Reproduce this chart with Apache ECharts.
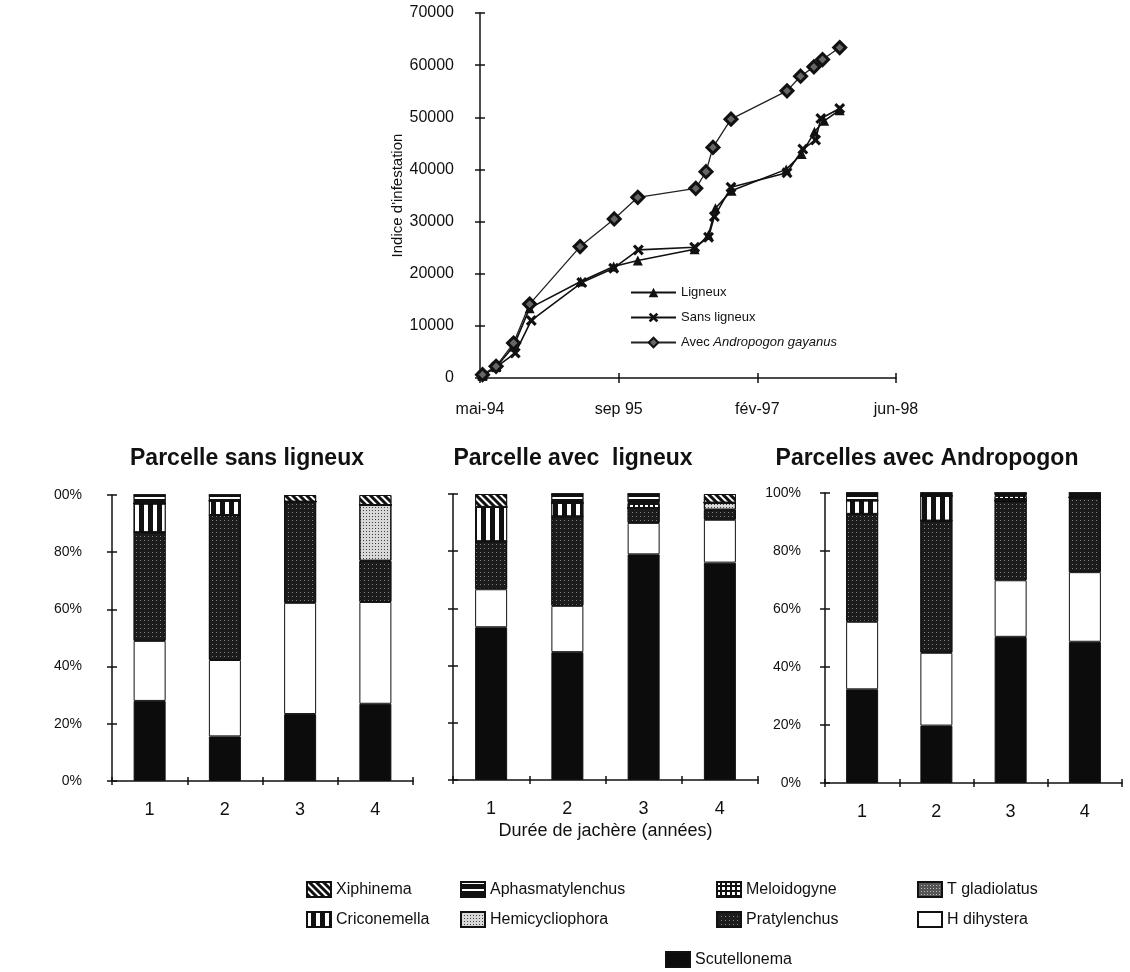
<!DOCTYPE html>
<html><head><meta charset="utf-8">
<script src="https://cdn.jsdelivr.net/npm/echarts@6/dist/echarts.min.js"></script>
<style>html,body{margin:0;padding:0;background:#fff}#c{width:1130px;height:972px}</style>
</head><body><div id="c"></div>
<script>
// ---------- Line chart data (x = days since the first axis tick, "mai-94") ----------
const xTickLabels = ['mai-94', 'sep 95', 'fév-97', 'jun-98'];
const ligneuxJours = [9, 58, 121, 179, 363, 482, 569, 774, 824, 849, 907, 1104, 1160, 1206, 1241, 1297];
const ligneuxIndice = [450, 2100, 6060, 13400, 18500, 21380, 22530, 24690, 27440, 32540, 35930, 40010, 42950, 47220, 49320, 51370];
const sansLigneuxJours = [9, 58, 127, 185, 367, 482, 571, 774, 824, 845, 905, 1107, 1164, 1210, 1229, 1297];
const sansLigneuxIndice = [450, 2100, 4790, 11040, 18310, 21060, 24570, 25080, 26990, 30950, 36570, 39370, 43900, 45630, 49780, 51690];
const andropogonJours = [9, 58, 121, 179, 361, 484, 569, 778, 815, 840, 905, 1107, 1156, 1204, 1235, 1297];
const andropogonIndice = [640, 2230, 6700, 14170, 25200, 30500, 34650, 36370, 39560, 44220, 49640, 55070, 57880, 59670, 61070, 63370];

// ---------- Bar charts data (% per fallow year) ----------
const categories = ['1', '2', '3', '4'];
const pctLabelsSans = ['0%', '20%', '40%', '60%', '80%', '00%'];
const pctLabelsAndro = ['0%', '20%', '40%', '60%', '80%', '100%'];
const species = ['Scutellonema', 'H dihystera', 'Pratylenchus', 'Hemicycliophora', 'Criconemella',
                 'T gladiolatus', 'Meloidogyne', 'Aphasmatylenchus', 'Xiphinema'];
// rows follow `species` (bottom of the stack first), columns = years 1..4
const parcelleSansLigneux = [
  [28, 15.6, 23.4, 27],
  [21, 26.7, 38.9, 35.6],
  [38, 50.7, 35.4, 14.4],
  [0, 0, 0, 19.5],
  [10, 5, 0, 0],
  [0, 0, 0, 0],
  [0, 0, 0, 0],
  [3, 2, 0, 0],
  [0, 0, 2.3, 3.5]
];
const parcelleAvecLigneux = [
  [53.4, 44.7, 78.9, 76],
  [13.3, 16.2, 11, 15],
  [16.8, 31.3, 5.2, 3.5],
  [0, 0, 0, 2.5],
  [12, 4.7, 0, 0],
  [0, 0, 0, 0],
  [0, 0, 1.8, 0],
  [0, 3.1, 3.1, 0],
  [4.5, 0, 0, 3]
];
const parcellesAndropogon = [
  [32.3, 19.8, 50.4, 48.7],
  [23.3, 25.1, 19.5, 24],
  [37.2, 45.6, 27.5, 25.8],
  [0, 0, 0, 0],
  [4.6, 8.5, 0, 0],
  [0, 0, 0, 0],
  [0, 0, 1.6, 0],
  [2.6, 1, 1, 1.5],
  [0, 0, 0, 0]
];
const chartTitles = ['Parcelle sans ligneux', 'Parcelle avec  ligneux', 'Parcelles avec Andropogon'];
const xAxisTitle = 'Durée de jachère (années)';
const yAxisTitle = "Indice d'infestation";

// ---------- styling ----------
const FONT = "'Liberation Sans', Arial, sans-serif";
const INK = '#111';
const patterns = {
  'Scutellonema': { color: '#0c0c0c' },
  'H dihystera': { color: '#ffffff' },
  'Pratylenchus': { color: '#1c1c1c', decal: { symbol: 'rect', symbolSize: 1, color: 'rgba(255,255,255,0.45)', dashArrayX: [1, 3], dashArrayY: [1, 3] } },
  'Hemicycliophora': { color: '#d8d8d8', decal: { symbol: 'rect', symbolSize: 1, color: 'rgba(0,0,0,0.7)', dashArrayX: [1, 2], dashArrayY: [1, 2] } },
  'Criconemella': { color: '#111', decal: { symbol: 'rect', symbolSize: 1, color: '#fff', dashArrayX: [4, 5], dashArrayY: [1, 0] } },
  'T gladiolatus': { color: '#555', decal: { symbol: 'rect', symbolSize: 1, color: 'rgba(255,255,255,0.6)', dashArrayX: [1, 2], dashArrayY: [1, 2] } },
  'Meloidogyne': { color: '#111', decal: { symbol: 'rect', symbolSize: 1, color: '#fff', dashArrayX: [3, 2], dashArrayY: [3, 2] } },
  'Aphasmatylenchus': { color: '#111', decal: { symbol: 'rect', symbolSize: 1, color: '#fff', dashArrayX: [1, 0], dashArrayY: [2, 5] } },
  'Xiphinema': { color: '#111', decal: { symbol: 'rect', symbolSize: 1, color: '#fff', dashArrayX: [1, 0], dashArrayY: [2, 3], rotation: Math.PI / 4 } }
};

const grids = [
  { left: 480, top: 13, width: 416, height: 365 },
  { left: 112, top: 495, width: 301, height: 286 },
  { left: 453, top: 494, width: 305, height: 286 },
  { left: 825, top: 493, width: 297, height: 290 }
];

const lineAxis = { lineStyle: { color: INK, width: 1.5 } };
const xAxes = [], yAxes = [];
function addPair(arr, base, tickLen) {
  const main = Object.assign({}, base, {
    axisLine: { show: true, ...lineAxis },
    axisTick: { show: true, length: tickLen, lineStyle: { color: INK, width: 1.5 } },
    splitLine: { show: false }
  });
  const inner = Object.assign({}, base, {
    name: '',
    axisLine: { show: false },
    axisLabel: { show: false },
    axisTick: { show: true, inside: true, length: tickLen, lineStyle: { color: INK, width: 1.5 } },
    splitLine: { show: false }
  });
  arr.push(main, inner);
  return arr.length - 2;
}

// line chart axes
const lx = addPair(xAxes, {
  gridIndex: 0, type: 'value', min: 0, max: 1500, interval: 500, position: 'bottom',
  axisLabel: { formatter: v => xTickLabels[Math.round(v / 500)], fontSize: 16, color: INK, fontFamily: FONT, margin: 24 }
}, 5);
const ly = addPair(yAxes, {
  gridIndex: 0, type: 'value', min: 0, max: 70000, interval: 10000, position: 'left',
  name: yAxisTitle, nameLocation: 'middle', nameGap: 73,
  nameTextStyle: { fontSize: 15, color: INK, fontFamily: FONT },
  axisLabel: { fontSize: 16, color: INK, fontFamily: FONT, margin: 26, formatter: v => String(v) }
}, 5);

// bar chart axes
const barAxisIdx = [];
const yLabelSets = [pctLabelsSans, null, pctLabelsAndro];
const yMargins = [30, 25, 24];
for (let k = 0; k < 3; k++) {
  const xi = addPair(xAxes, {
    gridIndex: k + 1, type: 'category', data: categories, position: 'bottom',
    name: k === 1 ? xAxisTitle : '', nameLocation: 'middle', nameGap: 42,
    nameTextStyle: { fontSize: 18, color: INK, fontFamily: FONT },
    axisLabel: { fontSize: 18, color: INK, fontFamily: FONT, margin: 20 }
  }, 4);
  const labels = yLabelSets[k];
  const yi = addPair(yAxes, {
    gridIndex: k + 1, type: 'value', min: 0, max: 100, interval: 20, position: 'left',
    axisLabel: {
      show: !!labels, fontSize: 14, color: INK, fontFamily: FONT, margin: yMargins[k],
      formatter: v => labels ? labels[Math.round(v / 20)] : ''
    }
  }, 5);
  barAxisIdx.push([xi, yi]);
}

const series = [];
const lineBase = { type: 'line', xAxisIndex: lx, yAxisIndex: ly, z: 4 };
series.push(Object.assign({}, lineBase, {
  name: 'Ligneux', data: ligneuxJours.map((d, i) => [d, ligneuxIndice[i]]),
  symbol: 'triangle', symbolSize: 10, lineStyle: { color: INK, width: 1.6 }, itemStyle: { color: INK }
}));
series.push(Object.assign({}, lineBase, {
  name: 'Sans ligneux', data: sansLigneuxJours.map((d, i) => [d, sansLigneuxIndice[i]]),
  symbol: 'path://M2,0L5,3L8,0L10,2L7,5L10,8L8,10L5,7L2,10L0,8L3,5L0,2Z', symbolSize: 11,
  lineStyle: { color: INK, width: 1.6 }, itemStyle: { color: INK }
}));
series.push(Object.assign({}, lineBase, {
  name: 'Avec Andropogon gayanus', data: andropogonJours.map((d, i) => [d, andropogonIndice[i]]),
  symbol: 'diamond', symbolSize: 12, lineStyle: { color: '#222', width: 1.3 },
  itemStyle: { color: '#666', borderColor: INK, borderWidth: 3 }
}));

const chartData = [parcelleSansLigneux, parcelleAvecLigneux, parcellesAndropogon];
for (let k = 0; k < 3; k++) {
  species.forEach((sp, s) => {
    const p = patterns[sp];
    const itemStyle = { color: p.color, borderColor: INK, borderWidth: 1 };
    if (p.decal) itemStyle.decal = p.decal;
    series.push({
      type: 'bar', name: sp, stack: 'c' + k, barWidth: 32,
      xAxisIndex: barAxisIdx[k][0], yAxisIndex: barAxisIdx[k][1],
      data: chartData[k][s], itemStyle
    });
  });
}

const titleCenters = [242, 568, 922];
const titles = chartTitles.map((t, i) => ({
  text: t, left: titleCenters[i], top: 442, textAlign: 'center',
  textStyle: { fontSize: 23, fontWeight: 'bold', color: INK, fontFamily: FONT }
}));

// legends
const legends = [{
  orient: 'vertical', left: 625, top: 281, itemWidth: 45, itemHeight: 12, itemGap: 12,
  selectedMode: false,
  data: ['Ligneux', 'Sans ligneux', 'Avec Andropogon gayanus'],
  formatter: n => n === 'Avec Andropogon gayanus' ? 'Avec {i|Andropogon gayanus}' : n,
  textStyle: { fontSize: 13, color: INK, fontFamily: FONT,
    rich: { i: { fontStyle: 'italic', fontSize: 13, color: INK, fontFamily: FONT } } }
}];
const legendCells = [
  ['Xiphinema', 301, 876], ['Aphasmatylenchus', 455, 876], ['Meloidogyne', 711, 876], ['T gladiolatus', 912, 876],
  ['Criconemella', 301, 906], ['Hemicycliophora', 455, 906], ['Pratylenchus', 711, 906], ['H dihystera', 912, 906],
  ['Scutellonema', 660, 946]
];
legendCells.forEach(([n, l, t]) => legends.push({
  data: [n], left: l, top: t, icon: 'rect', itemWidth: 24, itemHeight: 15, selectedMode: false,
  textStyle: { fontSize: 16, color: INK, fontFamily: FONT }
}));

const chart = echarts.init(document.getElementById('c'), null, { renderer: 'canvas' });
chart.setOption({
  animation: false,
  backgroundColor: '#fff',
  textStyle: { fontFamily: FONT },
  title: titles,
  legend: legends,
  grid: grids,
  xAxis: xAxes,
  yAxis: yAxes,
  series
});
</script></body></html>
